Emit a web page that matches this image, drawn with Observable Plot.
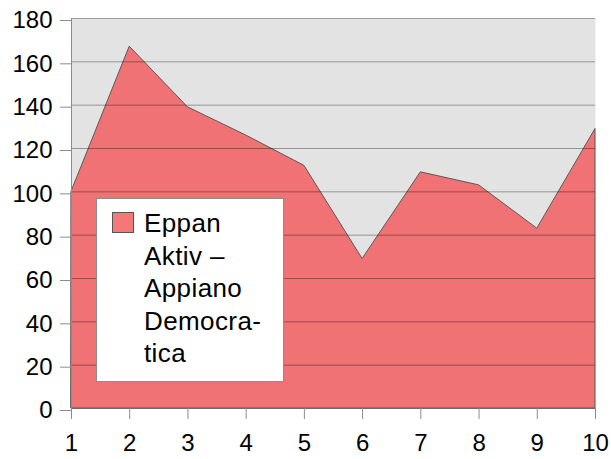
<!DOCTYPE html>
<html>
<head>
<meta charset="utf-8">
<script src="https://cdn.jsdelivr.net/npm/d3@7"></script>
<script src="https://cdn.jsdelivr.net/npm/@observablehq/plot@0.6"></script>
<style>
  html, body { margin: 0; padding: 0; background: #fff; }
  #wrap { position: relative; width: 611px; height: 459px; font-family: "Liberation Sans", Arial, sans-serif; }
  #legend {
    position: absolute; left: 96px; top: 198px; width: 188px; height: 184px;
    background: #fff; border: 1px solid #8c8c8c; box-sizing: border-box;
  }
  #legend .sw {
    position: absolute; left: 15px; top: 13px; width: 22px; height: 21px;
    background: #f47878; border: 1px solid #555; box-sizing: border-box;
  }
  #legend .tx {
    position: absolute; left: 47px; top: 8px; font-size: 26px; line-height: 32.5px;
    letter-spacing: 0.4px; color: #000;
  }
</style>
</head>
<body>
<div id="wrap"></div>
<script>
const xValues = [1, 2, 3, 4, 5, 6, 7, 8, 9, 10];
const seriesValues = [100, 167, 139, 126, 112, 69, 109, 103, 83, 129];
const yTicks = [0, 20, 40, 60, 80, 100, 120, 140, 160, 180];
const seriesName = ["Eppan", "Aktiv –", "Appiano", "Democra-", "tica"];

const data = xValues.map((x, i) => ({x, y: seriesValues[i]}));

const chart = Plot.plot({
  width: 611,
  height: 459,
  marginLeft: 71,
  marginRight: 16,
  marginTop: 18,
  marginBottom: 51,
  x: {domain: [1, 10], ticks: xValues},
  y: {domain: [0, 180], ticks: yTicks},
  style: {fontFamily: "'Liberation Sans', Arial, sans-serif", fontSize: "24px", color: "#000", background: "#fff"},
  marks: [
    Plot.frame({fill: "#e3e3e3", stroke: null}),
    Plot.areaY(data, {x: "x", y: "y", fill: "#f07274", stroke: "#5a5a5a", strokeWidth: 1}),
    Plot.gridY(yTicks, {stroke: "#000", strokeOpacity: 0.35, strokeWidth: 1}),
    Plot.ruleX([1], {stroke: "#8c8c8c"}),
    Plot.axisY(yTicks, {tickSize: 11, tickPadding: 8, stroke: "#8c8c8c", fill: "#000", dy: 2, tickFormat: d => d, label: null}),
    Plot.axisX(xValues, {tickSize: 11, tickPadding: 14, stroke: "#8c8c8c", fill: "#000", tickFormat: d => d, label: null})
  ]
});

const wrap = document.getElementById("wrap");
wrap.appendChild(chart);

const legend = document.createElement("div");
legend.id = "legend";
const sw = document.createElement("div");
sw.className = "sw";
const tx = document.createElement("div");
tx.className = "tx";
tx.innerHTML = seriesName.join("<br>");
legend.appendChild(sw);
legend.appendChild(tx);
wrap.appendChild(legend);
</script>
</body>
</html>
